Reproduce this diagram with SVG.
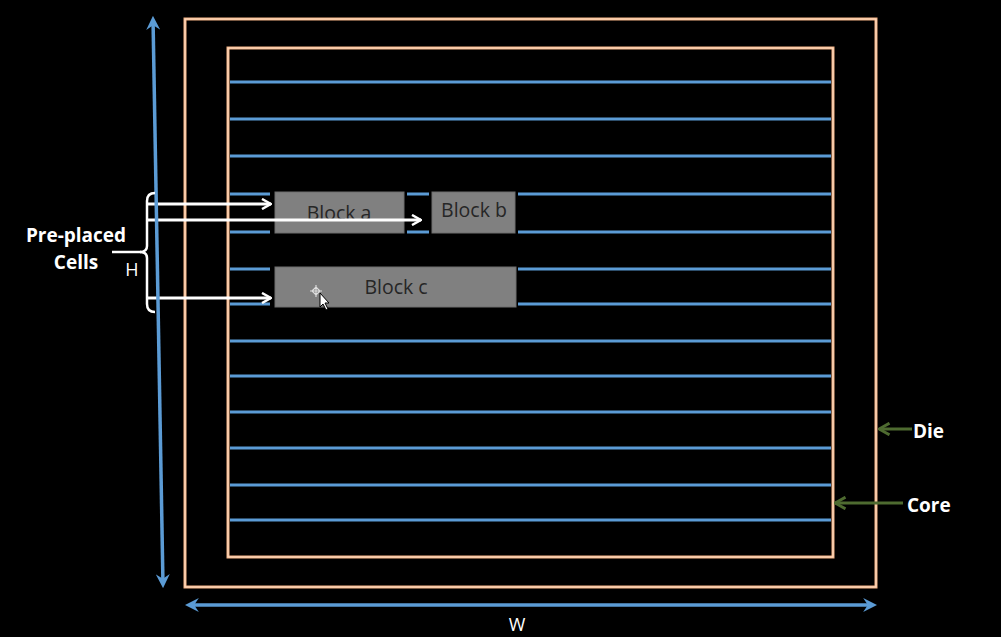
<svg xmlns="http://www.w3.org/2000/svg" width="1001" height="637" viewBox="0 0 1001 637">
<style>
.bg{fill:#000}
.frame{fill:none;stroke:#f4b183;stroke-width:3}
.frame2{fill:none;stroke:#fde3cc;stroke-width:1}
.row{stroke:#5b9bd5;stroke-width:3;fill:none}
.dim{stroke:#5b9bd5;stroke-width:3.5;fill:none}
.blk{fill:#808080;stroke:#6f6f6f;stroke-width:1}
.btxt{font-family:'Open Sans','Liberation Sans',sans-serif;font-size:19.5px;fill:#262626;text-anchor:middle}
.wa{stroke:#fff;stroke-width:3;fill:none}
.lbl{font-family:'Open Sans','Liberation Sans',sans-serif;font-weight:bold;font-size:19px;fill:#fff}
.thin{font-family:'Open Sans','Liberation Sans',sans-serif;font-size:18px;fill:#fff}
.ga{stroke:#4e6b30;stroke-width:3;fill:none}
</style>
<defs>
<marker id="wh" viewBox="0 0 12 12" refX="11" refY="6" markerWidth="12" markerHeight="12" markerUnits="userSpaceOnUse" orient="auto">
<path d="M2,1 L11,6 L2,11" fill="none" stroke="#fff" stroke-width="2.5"/>
</marker>
<marker id="gh" viewBox="0 0 12 12" refX="11" refY="6" markerWidth="14" markerHeight="14" markerUnits="userSpaceOnUse" orient="auto">
<path d="M2,1 L11,6 L2,11" fill="none" stroke="#4e6b30" stroke-width="2.5"/>
</marker>
<marker id="bh" viewBox="0 0 12 12" refX="5" refY="6" markerWidth="14" markerHeight="14" markerUnits="userSpaceOnUse" orient="auto-start-reverse">
<path d="M0,0 L12,6 L0,12 L4,6 Z" fill="#5b9bd5"/>
</marker>
</defs>
<rect class="bg" x="0" y="0" width="1001" height="637"/>

<g id="die">
<rect class="frame" x="185" y="19" width="691" height="568"/>
<rect class="frame2" x="185" y="19" width="691" height="568"/>
</g>
<g id="core">
<rect class="frame" x="228" y="48" width="605" height="509"/>
<rect class="frame2" x="228" y="48" width="605" height="509"/>
</g>

<g id="rows">
<line class="row" x1="230" y1="82" x2="831" y2="82"/>
<line class="row" x1="230" y1="119" x2="831" y2="119"/>
<line class="row" x1="230" y1="156" x2="831" y2="156"/>
<line class="row" x1="230" y1="194" x2="270" y2="194"/>
<line class="row" x1="407" y1="194" x2="429" y2="194"/>
<line class="row" x1="518" y1="194" x2="831" y2="194"/>
<line class="row" x1="230" y1="232" x2="270" y2="232"/>
<line class="row" x1="407" y1="232" x2="429" y2="232"/>
<line class="row" x1="518" y1="232" x2="831" y2="232"/>
<line class="row" x1="230" y1="269" x2="270" y2="269"/>
<line class="row" x1="518" y1="269" x2="831" y2="269"/>
<line class="row" x1="230" y1="304" x2="270" y2="304"/>
<line class="row" x1="518" y1="304" x2="831" y2="304"/>
<line class="row" x1="230" y1="341" x2="831" y2="341"/>
<line class="row" x1="230" y1="376" x2="831" y2="376"/>
<line class="row" x1="230" y1="412" x2="831" y2="412"/>
<line class="row" x1="230" y1="448" x2="831" y2="448"/>
<line class="row" x1="230" y1="485" x2="831" y2="485"/>
<line class="row" x1="230" y1="520" x2="831" y2="520"/>
</g>

<g id="block-a">
<rect class="blk" x="275" y="192" width="129" height="41"/>
<text class="btxt" x="339" y="220">Block a</text>
</g>
<g id="block-b">
<rect class="blk" x="432" y="192" width="83" height="41"/>
<text class="btxt" x="474" y="217">Block b</text>
</g>
<g id="block-c">
<rect class="blk" x="275" y="267" width="241" height="40"/>
<text class="btxt" x="396" y="294">Block c</text>
</g>

<g id="cursor">
<path d="M312,291 l4,-4 l4,4 l-4,4 z M316,285 v12 M310,291 h12" fill="none" stroke="#ddd" stroke-width="1.2"/>
<path d="M320,293 l0,14 l3,-3 l3,6 l2,-1 l-3,-6 l4,0 z" fill="#fff" stroke="#000" stroke-width="1"/>
</g>

<g id="connectors">
<line class="wa" x1="148" y1="204" x2="271" y2="204" marker-end="url(#wh)"/>
<line class="wa" x1="148" y1="220" x2="421" y2="220" marker-end="url(#wh)"/>
<line class="wa" x1="148" y1="298" x2="271" y2="298" marker-end="url(#wh)"/>
<line class="ga" x1="912" y1="429" x2="879" y2="429" marker-end="url(#gh)"/>
<line class="ga" x1="903" y1="503" x2="835" y2="503" marker-end="url(#gh)"/>
<line class="dim" x1="153.1" y1="24" x2="162.9" y2="580" marker-start="url(#bh)" marker-end="url(#bh)"/>
<line class="dim" x1="193" y1="605" x2="869" y2="605" marker-start="url(#bh)" marker-end="url(#bh)"/>
</g>

<g id="brace">
<path d="M155,193 Q147,193 147,201 L147,246 Q147,252 140,252 Q147,252 147,258 L147,304 Q147,312 155,312" fill="none" stroke="#fff" stroke-width="2.5"/>
<line x1="112" y1="252" x2="141" y2="252" stroke="#fff" stroke-width="2.5"/>
<text class="thin" x="132" y="276" text-anchor="middle">H</text>
</g>

<g id="labels">
<text class="lbl" x="76" y="242" text-anchor="middle">Pre-placed</text>
<text class="lbl" x="76" y="269" text-anchor="middle">Cells</text>
<text class="lbl" x="913" y="438">Die</text>
<text class="lbl" x="907" y="512">Core</text>
<text class="thin" x="517" y="631" text-anchor="middle">W</text>
</g>
</svg>
